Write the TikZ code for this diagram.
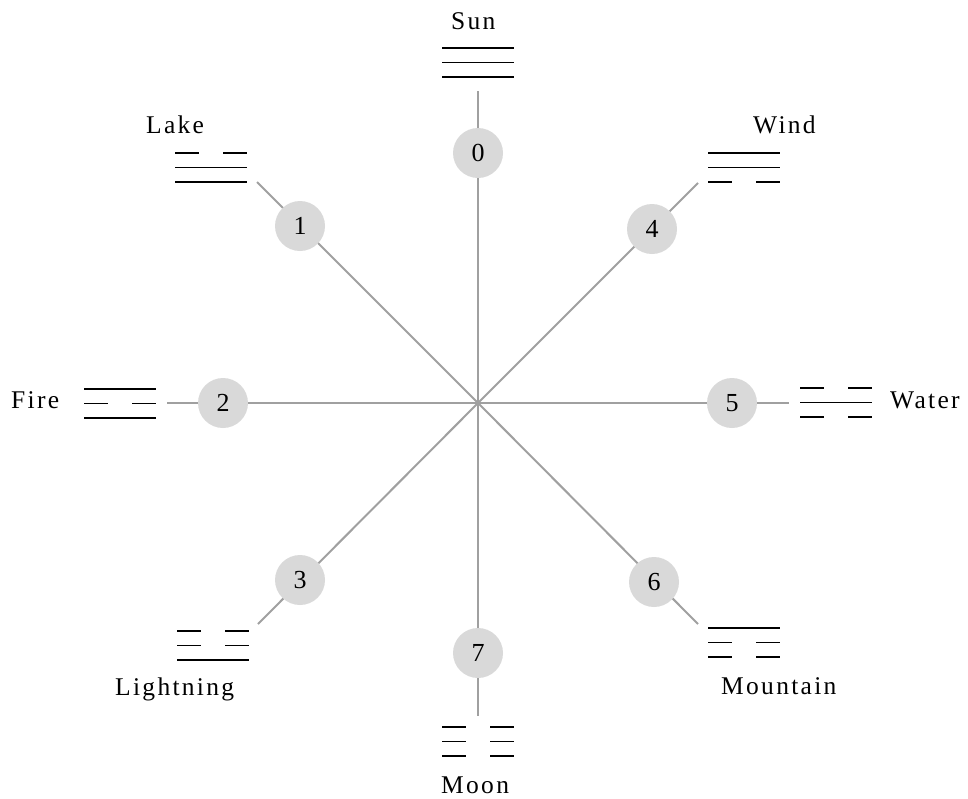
\documentclass[tikz,border=0pt]{standalone}
\usepackage{fontspec}
\setmainfont{Liberation Serif}
\newfontfamily\lblfont{Liberation Serif}[LetterSpace=9]
\definecolor{spoke}{RGB}{160,160,160}
\definecolor{disc}{RGB}{217,217,217}
\tikzset{
  spokeline/.style={draw=spoke, line width=2pt},
  numdisc/.style={circle, fill=disc, minimum size=50pt, inner sep=0pt, font=\fontsize{26}{26}\selectfont},
  lbl/.style={inner sep=0pt, anchor=base west, font=\fontsize{25.5}{26}\selectfont\lblfont},
  tri/.style={draw=black, line width=1.6pt}
}
\newcommand{\tline}[3]{%
  \ifnum#3=1
    \draw[tri] (#1,#2) -- ++(72,0);
  \else
    \draw[tri] (#1,#2) -- ++(24,0) (#1+48,#2) -- ++(24,0);
  \fi}
\newcommand{\trigram}[5]{%
  \tline{#1}{#2}{#3}
  \tline{#1}{#2+14.5}{#4}
  \tline{#1}{#2+29}{#5}}
\begin{document}
\begin{tikzpicture}[x=1pt,y=-1pt]
\useasboundingbox (0,0) rectangle (968,798);
% centre and spoke ends
\coordinate (c) at (478,403);
\coordinate (e0) at (478,91);
\coordinate (e1) at (257,182);
\coordinate (e2) at (167,403);
\coordinate (e3) at (258,624);
\coordinate (e4) at (698,183);
\coordinate (e5) at (789,403);
\coordinate (e6) at (698,624);
\coordinate (e7) at (478,716);
\foreach \i in {0,...,7} \draw[spokeline] (c) -- (e\i);
% numbered discs
\node[numdisc] (n0) at (478,153) {0};
\node[numdisc] (n1) at (300,226) {1};
\node[numdisc] (n2) at (223,403) {2};
\node[numdisc] (n3) at (300,580) {3};
\node[numdisc] (n4) at (652,229) {4};
\node[numdisc] (n5) at (732,403) {5};
\node[numdisc] (n6) at (654,582) {6};
\node[numdisc] (n7) at (478,653) {7};
% trigrams
\trigram{442}{48}{1}{1}{1}
\trigram{175}{153}{0}{1}{1}
\trigram{84}{389}{1}{0}{1}
\trigram{708}{153}{1}{1}{0}
\trigram{800}{388}{0}{1}{0}
\trigram{177}{631}{0}{0}{1}
\trigram{708}{628}{1}{0}{0}
\trigram{442}{727}{0}{0}{0}
% labels
\node[lbl] (tSun) at (451,29) {Sun};
\node[lbl] (tLake) at (146,133) {Lake};
\node[lbl] (tFire) at (11,408) {Fire};
\node[lbl] (tWind) at (753,133) {Wind};
\node[lbl] (tWater) at (890,408) {Water};
\node[lbl] (tLightning) at (115,695) {Lightning};
\node[lbl] (tMountain) at (721,694) {Mountain};
\node[lbl] (tMoon) at (441,793) {Moon};
\end{tikzpicture}
\end{document}
